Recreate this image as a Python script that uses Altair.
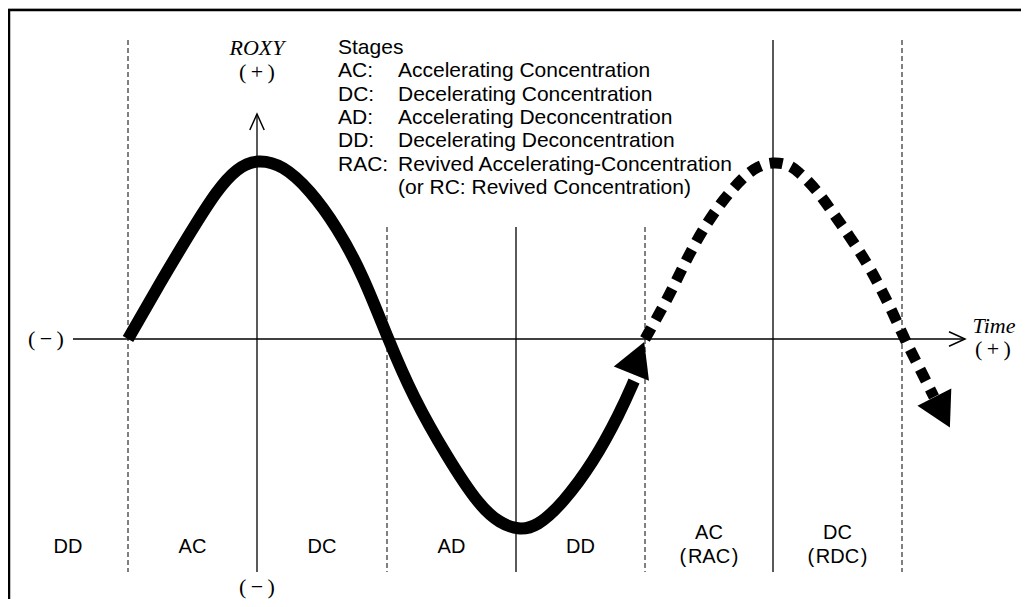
import altair as alt
import pandas as pd

# ---------------- data (page pixel frame) ----------------
# vertical stage boundaries
guide_x = [128, 257, 387, 516, 645, 773, 902]
guide_top = [40, 114, 227, 227, 227, 40, 40]
guide_bottom = [572, 572, 572, 572, 572, 572, 572]
guide_dashed = [True, False, True, False, True, False, True]

# solid ROXY path (first cycle)
solid_x = [128, 160, 190, 217, 237, 257, 283, 310, 337, 363, 388,
           413, 447, 480, 500, 518, 537, 563, 593, 620, 634]
solid_y = [339, 283, 233, 190, 168, 159, 165, 190, 227, 275, 339,
           397, 457, 507, 523, 530, 527, 503, 463, 413, 381]

# dashed ROXY path (revived cycle)
dash_x = [645, 667, 680, 693, 707, 723, 743, 758, 773, 787, 797, 817, 833,
          850, 867, 880, 893, 905, 917, 928, 934]
dash_y = [339, 300, 273, 247, 223, 200, 177, 166, 162, 164, 170, 190, 213,
          237, 263, 287, 313, 340, 363, 385, 397]

# filled arrow heads at the path ends (centre, heading in degrees)
head_x = [638.5, 943]
head_y = [356, 414]
head_angle = [22, 153]

# horizontal (Time) axis
time_axis_x1 = [73]
time_axis_x2 = [965]
time_axis_y = [339]

# open chevrons at the axis tips
chev_x = [257, 965]
chev_y = [114, 339]
chev_angle = [0, 90]

# stage labels at the bottom
stage_label = ["DD", "AC", "DC", "AD", "DD", "AC", "(\u200aRAC\u200a)", "DC", "(\u200aRDC\u200a)"]
stage_x = [68, 192.5, 322, 451.5, 580.5, 709, 709, 837.5, 837.5]
stage_y = [547, 547, 547, 547, 547, 533, 557, 533, 557]

# legend
legend_abbr = ["Stages", "AC:", "DC:", "AD:", "DD:", "RAC:", ""]
legend_desc = ["", "Accelerating Concentration", "Decelerating Concentration",
               "Accelerating Deconcentration", "Decelerating Deconcentration",
               "Revived Accelerating-Concentration", "(or RC: Revived Concentration)"]
legend_y = [48, 71, 94.5, 118, 141, 164.5, 188]
legend_x_abbr = 338
legend_x_desc = 398

# axis annotations
ann_text = ["(\u2009\u2212\u2009)", "(\u2009+\u2009)", "(\u2009\u2212\u2009)", "(\u2009+\u2009)"]
ann_x = [46, 257, 257, 993]
ann_y = [339, 72, 587, 349]
ital_text = ["ROXY", "Time"]
ital_x = [257, 994]
ital_y = [48, 326]

# frame
frame_top_y = [10]
frame_left_x = [9]

# ---------------- chart ----------------
W, H = 1013, 591
xs = alt.Scale(domain=[8, 8 + W], nice=False, zero=False)
ys = alt.Scale(domain=[8, 8 + H], nice=False, zero=False, reverse=True)
X = lambda f: alt.X(f, type="quantitative", scale=xs, axis=None)
Y = lambda f: alt.Y(f, type="quantitative", scale=ys, axis=None)

guides = pd.DataFrame({"x": guide_x, "top": guide_top, "bottom": guide_bottom,
                       "dashed": guide_dashed})
g_dash = alt.Chart(guides).transform_filter("datum.dashed").mark_rule(
    color="black", strokeWidth=1, strokeDash=[5, 3]).encode(
    x=X("x"), y=Y("top"), y2="bottom")
g_solid = alt.Chart(guides).transform_filter("!datum.dashed").mark_rule(
    color="black", strokeWidth=1.3).encode(x=X("x"), y=Y("top"), y2="bottom")

frame_df = pd.DataFrame({"y": frame_top_y, "x": frame_left_x})
frame_top = alt.Chart(frame_df).mark_rule(color="black", strokeWidth=2.5).encode(
    x=alt.value(0), x2=alt.value(W), y=Y("y"))
frame_left = alt.Chart(frame_df).mark_rule(color="black", strokeWidth=2.5).encode(
    x=X("x"), y=Y("y"), y2=alt.value(H))

tax = pd.DataFrame({"x1": time_axis_x1, "x2": time_axis_x2, "y": time_axis_y})
time_axis = alt.Chart(tax).mark_rule(color="black", strokeWidth=1.5).encode(
    x=X("x1"), x2="x2", y=Y("y"))

chev = pd.DataFrame({"x": chev_x, "y": chev_y, "a": chev_angle})
chevrons = alt.Chart(chev).mark_point(
    shape="M-0.45,1L0,0L0.45,1", filled=False, color="black", strokeWidth=1.5,
    size=1024, opacity=1).encode(
    x=X("x"), y=Y("y"), angle=alt.Angle("a:Q", scale=None))

sol = pd.DataFrame({"x": solid_x, "y": solid_y, "i": range(len(solid_x))})
solid_line = alt.Chart(sol).mark_line(
    color="black", strokeWidth=12, strokeCap="butt", interpolate="basis").encode(
    x=X("x"), y=Y("y"), order="i:Q")

dsh = pd.DataFrame({"x": dash_x, "y": dash_y, "i": range(len(dash_x))})
dash_line = alt.Chart(dsh).mark_line(
    color="black", strokeWidth=11, strokeDash=[13, 9], strokeCap="butt",
    interpolate="basis").encode(x=X("x"), y=Y("y"), order="i:Q")

heads = pd.DataFrame({"x": head_x, "y": head_y, "a": head_angle})
arrow_heads = alt.Chart(heads).mark_point(
    shape="M-1,1L1,1L0,-0.8Z", filled=True, color="black", size=1444,
    opacity=1).encode(x=X("x"), y=Y("y"), angle=alt.Angle("a:Q", scale=None))

stages = pd.DataFrame({"t": stage_label, "x": stage_x, "y": stage_y})
stage_text = alt.Chart(stages).mark_text(
    font="Liberation Sans", fontSize=20, color="black", baseline="middle",
    align="center").encode(x=X("x"), y=Y("y"), text="t")

leg = pd.DataFrame({"a": legend_abbr, "d": legend_desc, "y": legend_y,
                    "xa": [legend_x_abbr] * len(legend_y),
                    "xd": [legend_x_desc] * len(legend_y)})
leg_a = alt.Chart(leg).mark_text(
    font="Liberation Sans", fontSize=21, color="black", baseline="middle",
    align="left").encode(x=X("xa"), y=Y("y"), text="a")
leg_d = alt.Chart(leg).mark_text(
    font="Liberation Sans", fontSize=21, color="black", baseline="middle",
    align="left").encode(x=X("xd"), y=Y("y"), text="d")

ann = pd.DataFrame({"t": ann_text, "x": ann_x, "y": ann_y})
ann_marks = alt.Chart(ann).mark_text(
    font="Liberation Serif", fontSize=22, color="black", baseline="middle",
    align="center").encode(x=X("x"), y=Y("y"), text="t")

ital = pd.DataFrame({"t": ital_text, "x": ital_x, "y": ital_y})
ital_marks = alt.Chart(ital).mark_text(
    font="Liberation Serif", fontSize=22, fontStyle="italic", color="black",
    baseline="middle", align="center").encode(x=X("x"), y=Y("y"), text="t")

chart = alt.layer(
    frame_top, frame_left, g_dash, g_solid, time_axis, chevrons,
    solid_line, dash_line, arrow_heads, stage_text, leg_a, leg_d,
    ann_marks, ital_marks
).properties(
    width=W, height=H, padding=0, autosize=alt.AutoSizeParams(type="none")
).configure_view(stroke=None).configure(background="white")

chart.save("out.html", embed_options={"renderer": "svg", "actions": False})
